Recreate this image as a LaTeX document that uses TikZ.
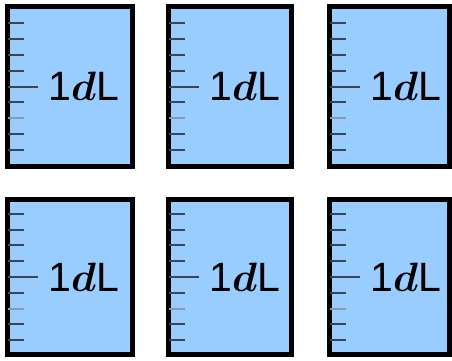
\RequirePackage{fix-cm}
\documentclass[tikz,border=0pt]{standalone}
\usepackage{fontspec}
\setmainfont{Liberation Sans}
\usetikzlibrary{positioning}

\definecolor{cupblue}{HTML}{99CCFF}
\definecolor{tickgray}{HTML}{3A4652}
\definecolor{ticklight}{HTML}{8C9AA8}

\begin{document}
\begin{tikzpicture}[x=1pt,y=-1pt,
    cupbox/.style={draw=black,line width=5pt,fill=cupblue,inner sep=0pt},
    tick/.style={draw=tickgray,line width=2pt},
    cuplabel/.style={inner sep=0pt,font=\fontsize{41}{41}\selectfont}]
  \useasboundingbox (0,0) rectangle (452,361);
  % six 1 dL cups, two rows
  \foreach \name/\cx/\cy/\w/\h in {a/70/86.5/125/160, b/230/86.5/123/160, c/389.5/86.5/120/160,
                                   d/70/277/125/155, e/230/277/123/155, f/389.5/277/120/155} {
    \node[cupbox,minimum width=\w pt,minimum height=\h pt] (\name) at (\cx,\cy) {};
    \foreach \k in {-4,-3,-1,1,2,3,4}
      \draw[tick] ([xshift=2.5pt,yshift=\k*15.8pt]\name.west) -- ++(16,0);
    \draw[tick,draw=ticklight] ([xshift=2.5pt,yshift=-2*15.8pt]\name.west) -- ++(16,0);
    \coordinate (\name-m) at ([xshift=33pt]\name.west);
    \draw[tick] ([xshift=2.5pt]\name.west) -- (\name-m);
    \node[cuplabel,right=10pt of \name-m] (\name-t) {1{\boldmath$d$}L};
  }
\end{tikzpicture}
\end{document}
